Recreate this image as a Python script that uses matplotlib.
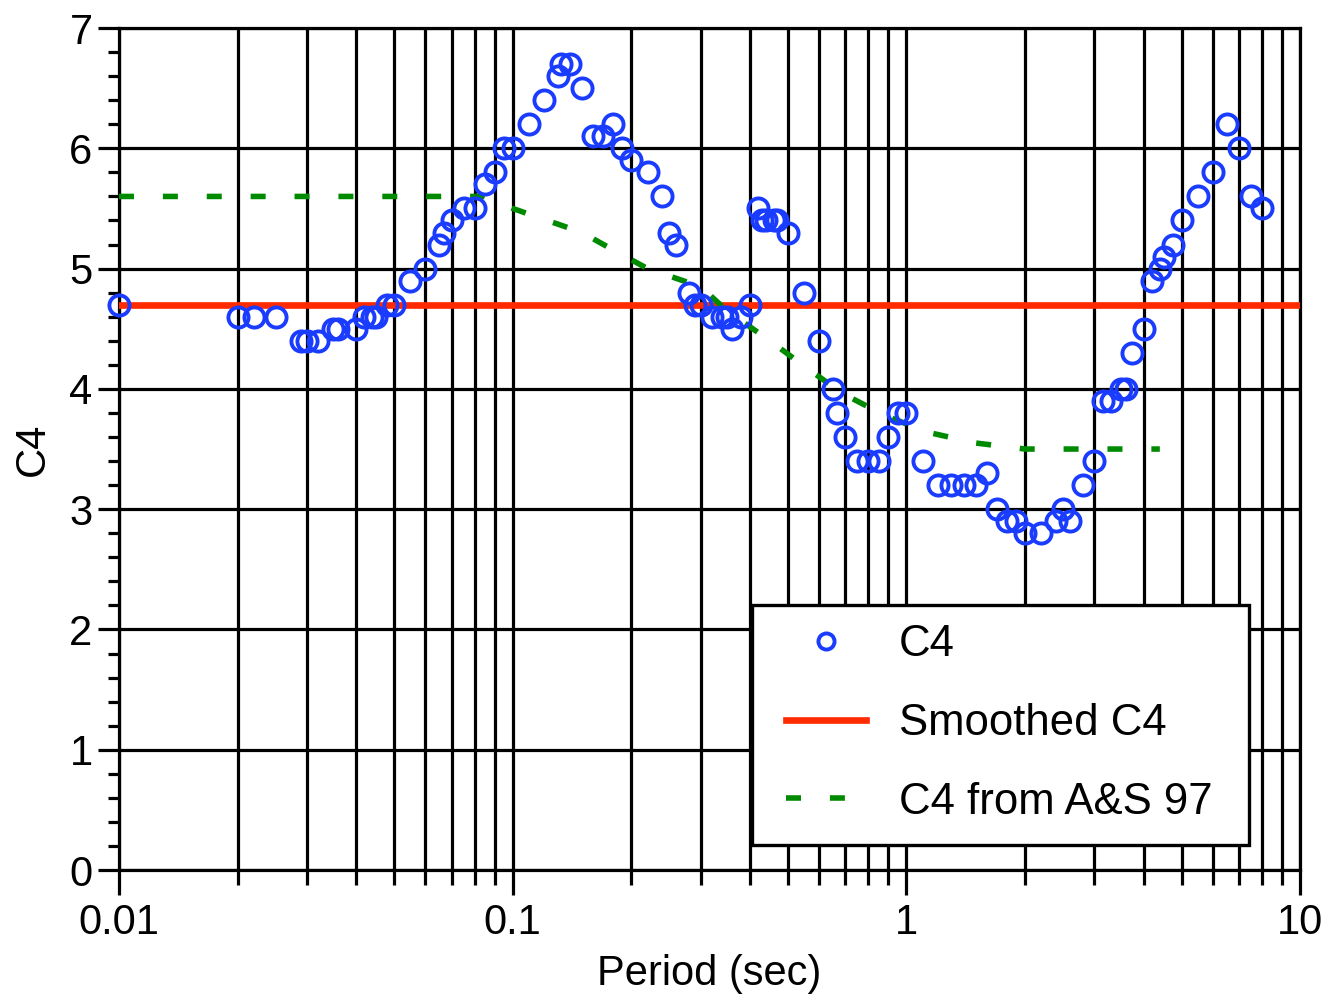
import matplotlib
matplotlib.use('Agg')
import matplotlib.pyplot as plt
from matplotlib.patches import Rectangle
from matplotlib.ticker import LogLocator, FixedLocator, FuncFormatter, NullFormatter

plt.rcParams['font.family'] = ['Liberation Sans', 'DejaVu Sans']

# C4 coefficients by period
period = [0.01, 0.02, 0.022, 0.025, 0.029, 0.03, 0.032, 0.035, 0.036, 0.04,
          0.042, 0.044, 0.045, 0.048, 0.05, 0.055, 0.06, 0.065, 0.067, 0.07,
          0.075, 0.08, 0.085, 0.09, 0.095, 0.1, 0.11, 0.12, 0.13, 0.133,
          0.14, 0.15, 0.16, 0.17, 0.18, 0.19, 0.2, 0.22, 0.24, 0.25,
          0.26, 0.28, 0.29, 0.3, 0.32, 0.34, 0.35, 0.36, 0.38, 0.4,
          0.42, 0.43, 0.44, 0.46, 0.47, 0.5, 0.55, 0.6, 0.65, 0.667,
          0.7, 0.75, 0.8, 0.85, 0.9, 0.95, 1.0, 1.1, 1.2, 1.3,
          1.4, 1.5, 1.6, 1.7, 1.8, 1.9, 2.0, 2.2, 2.4, 2.5,
          2.6, 2.8, 3.0, 3.15, 3.3, 3.5, 3.6, 3.75, 4.0, 4.2,
          4.4, 4.5, 4.75, 5.0, 5.5, 6.0, 6.5, 7.0, 7.5, 8.0]
c4 = [4.7, 4.6, 4.6, 4.6, 4.4, 4.4, 4.4, 4.5, 4.5, 4.5,
      4.6, 4.6, 4.6, 4.7, 4.7, 4.9, 5.0, 5.2, 5.3, 5.4,
      5.5, 5.5, 5.7, 5.8, 6.0, 6.0, 6.2, 6.4, 6.6, 6.7,
      6.7, 6.5, 6.1, 6.1, 6.2, 6.0, 5.9, 5.8, 5.6, 5.3,
      5.2, 4.8, 4.7, 4.7, 4.6, 4.6, 4.6, 4.5, 4.6, 4.7,
      5.5, 5.4, 5.4, 5.4, 5.4, 5.3, 4.8, 4.4, 4.0, 3.8,
      3.6, 3.4, 3.4, 3.4, 3.6, 3.8, 3.8, 3.4, 3.2, 3.2,
      3.2, 3.2, 3.3, 3.0, 2.9, 2.9, 2.8, 2.8, 2.9, 3.0,
      2.9, 3.2, 3.4, 3.9, 3.9, 4.0, 4.0, 4.3, 4.5, 4.9,
      5.0, 5.1, 5.2, 5.4, 5.6, 5.8, 6.2, 6.0, 5.6, 5.5]

smoothed_period = [0.01, 10.0]
smoothed_c4 = [4.7, 4.7]

as97_period = [0.01, 0.085, 0.1, 0.15, 0.17, 0.22, 0.3, 0.35, 0.45, 0.56,
               0.69, 0.88, 1.13, 1.5, 2.0, 4.4]
as97_c4 = [5.6, 5.6, 5.5, 5.3, 5.2, 5.0, 4.85, 4.65, 4.4, 4.17,
           3.96, 3.78, 3.64, 3.55, 3.5, 3.5]

FS = 30

fig = plt.figure(figsize=(13.25, 9.94), dpi=100)
ax = fig.add_axes([0.0898, 0.1247, 0.8915, 0.8471])

ax.plot(period, c4, 'o', ls='none', ms=14.5, mfc='none', mec='#1a3cff',
        mew=2.8, label='C4', zorder=4, clip_on=False)
ax.plot(smoothed_period, smoothed_c4, color='#ff2a00', lw=4.8,
        label='Smoothed C4', zorder=3)
ax.plot(as97_period, as97_c4, color='#008a00', lw=4.0, dashes=(2.7, 5.2),
        label='C4 from A&S 97', zorder=3)

ax.set_xscale('log')
ax.set_xlim(0.01, 10)
ax.set_ylim(0, 7)

ax.xaxis.set_major_locator(FixedLocator([0.01, 0.1, 1, 10]))
ax.xaxis.set_major_formatter(FuncFormatter(lambda v, p: '%g' % v))
ax.xaxis.set_minor_locator(LogLocator(base=10, subs=range(2, 10), numticks=20))
ax.xaxis.set_minor_formatter(NullFormatter())
ax.set_yticks(range(8))
ax.set_yticks([i * 0.2 for i in range(36)], minor=True)

ax.grid(True, which='both', axis='x', color='black', lw=2.3)
ax.grid(True, which='major', axis='y', color='black', lw=2.3)
ax.set_axisbelow(True)

for s in ax.spines.values():
    s.set_linewidth(2.3)
ax.tick_params(axis='both', which='both', direction='out', width=2.3,
               labelsize=FS, color='black')
ax.tick_params(axis='x', which='major', length=18, pad=6)
ax.tick_params(axis='x', which='minor', length=11)
ax.tick_params(axis='y', which='major', length=15, pad=4)
ax.tick_params(axis='y', which='minor', length=8)

ax.set_xlabel('Period (sec)', fontsize=FS, labelpad=8)
ax.set_ylabel('C4', fontsize=FS, labelpad=12)

# legend box: white panel with a plain black border, entries centred inside
ax.add_patch(Rectangle((0.536, 0.0297), 0.4208, 0.285, transform=ax.transAxes,
                       facecolor='white', edgecolor='black', lw=2.4, zorder=4.5))
leg = ax.legend(loc='center', bbox_to_anchor=(0.7455, 0.174),
                borderaxespad=0, borderpad=0, fontsize=31.5, handlelength=1.83,
                handletextpad=0.75, labelspacing=0.86, frameon=False,
                markerscale=0.8)
leg.set_zorder(5)

fig.savefig('out.png', dpi=100)
